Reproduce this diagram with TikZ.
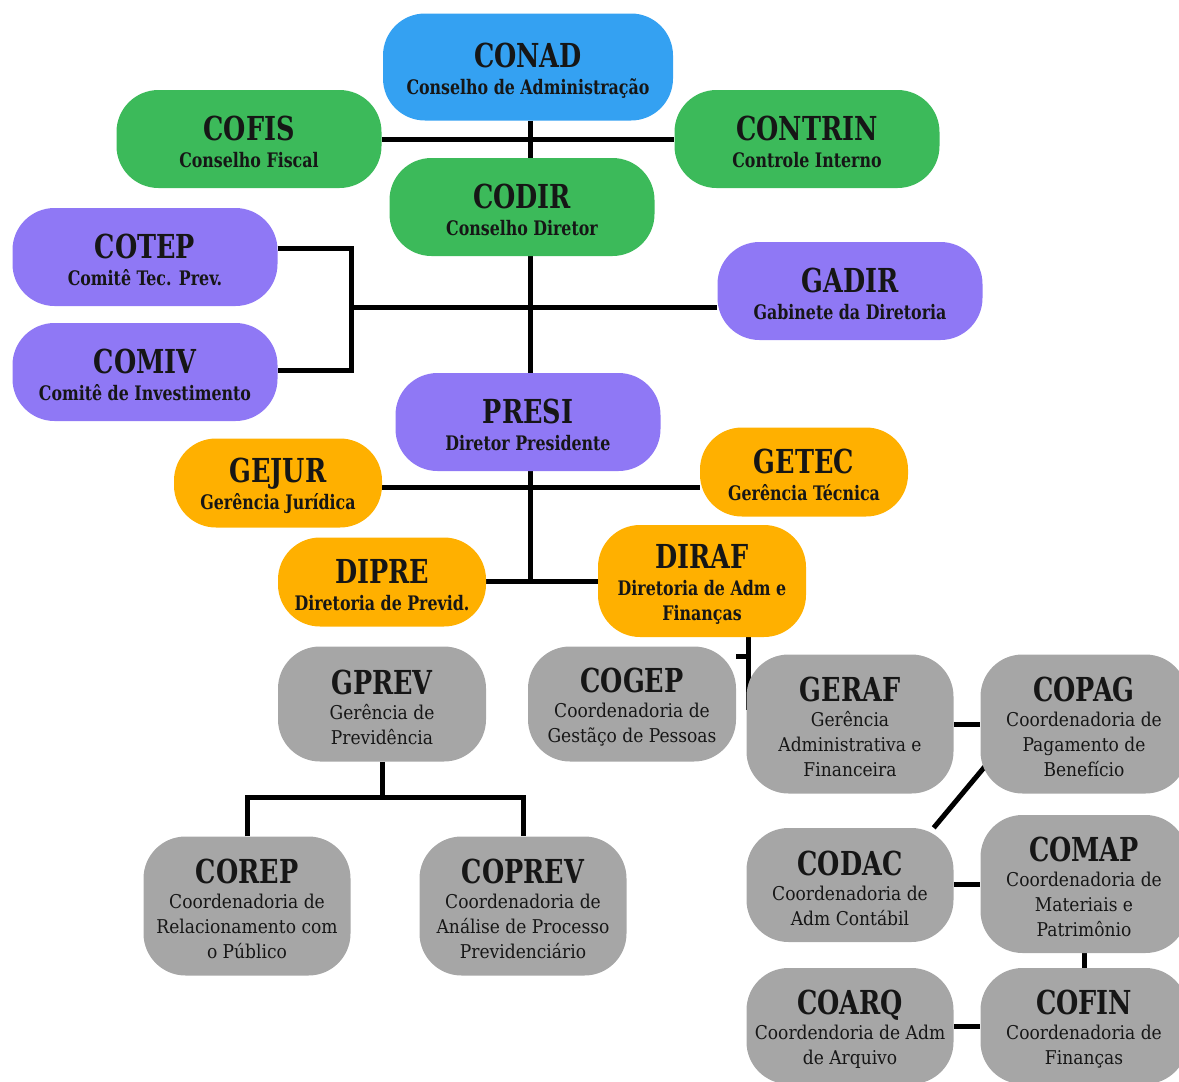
\documentclass[tikz,border=0pt]{standalone}
\usepackage{fontspec}
\setmainfont{DejaVu Serif Condensed}
\newfontfamily\ttlfont[FakeStretch=0.86]{DejaVu Serif Condensed}
\newfontfamily\subbfont[FakeStretch=0.88]{DejaVu Serif Condensed}
\usetikzlibrary{backgrounds}
\definecolor{cblue}{RGB}{52,161,242}
\definecolor{cgreen}{RGB}{60,186,90}
\definecolor{cpurple}{RGB}{143,120,245}
\definecolor{corange}{RGB}{255,176,0}
\definecolor{cgray}{RGB}{166,166,166}
\definecolor{ctext}{RGB}{22,22,22}
\newcommand{\nttl}{\ttlfont\fontsize{33}{34}\selectfont\bfseries\rule{0pt}{31pt}}
\newcommand{\nsubf}{\fontsize{19}{25}\selectfont}
\newcommand{\nsubb}{\subbfont\fontsize{20}{25}\selectfont\bfseries}
\begin{document}
\begin{tikzpicture}[x=1pt,y=-1pt,
  box/.style={rectangle, rounded corners=42pt, inner sep=0pt, align=center, text=ctext},
  colbox/.style={box, font=\nsubb},
  graybox/.style={box, fill=cgray, font=\nsubf},
  wide/.style={minimum width=265pt, minimum height=98pt},
  mid/.style={minimum width=208pt},
  conn/.style={draw=black, line width=5pt}]
\useasboundingbox (0,0) rectangle (1179,1082);
% top
\node[colbox, fill=cblue, minimum width=290pt, minimum height=107pt] (conad) at (528,67) {{\nttl CONAD}\\[2pt]Conselho de Administração};
\node[colbox, fill=cgreen, wide] (cofis) at (249,139) {{\nttl COFIS}\\[2pt]Conselho Fiscal};
\node[colbox, fill=cgreen, wide] (contrin) at (807,139) {{\nttl CONTRIN}\\[2pt]Controle Interno};
\node[colbox, fill=cgreen, wide] (codir) at (522,207) {{\nttl CODIR}\\[2pt]Conselho Diretor};
\node[colbox, fill=cpurple, wide] (cotep) at (145,257) {{\nttl COTEP}\\[2pt]Comitê Tec. Prev.};
\node[colbox, fill=cpurple, wide] (comiv) at (145,372) {{\nttl COMIV}\\[2pt]Comitê de Investimento};
\node[colbox, fill=cpurple, wide] (gadir) at (850,291) {{\nttl GADIR}\\[2pt]Gabinete da Diretoria};
\node[colbox, fill=cpurple, wide] (presi) at (528,422) {{\nttl PRESI}\\[2pt]Diretor Presidente};
% orange
\node[colbox, fill=corange, mid, minimum height=89pt] (gejur) at (278,483) {{\nttl GEJUR}\\[2pt]Gerência Jurídica};
\node[colbox, fill=corange, mid, minimum height=89pt] (getec) at (804,472) {{\nttl GETEC}\\[2pt]Gerência Técnica};
\node[colbox, fill=corange, mid, minimum height=89pt] (dipre) at (382,582) {{\nttl DIPRE}\\[2pt]Diretoria de Previd.};
\node[colbox, fill=corange, mid, minimum height=112pt] (diraf) at (702,581) {{\nttl DIRAF}\\[2pt]Diretoria de Adm e\\Finanças};
% gray
\node[graybox, mid, minimum height=115pt] (gprev) at (382,704) {{\nttl GPREV}\\Gerência de\\Previdência};
\node[graybox, mid, minimum height=115pt] (cogep) at (632,704) {{\nttl COGEP}\\Coordenadoria de\\Gestãço de Pessoas};
\node[graybox, minimum width=207pt, minimum height=139pt] (geraf) at (850,724) {{\nttl GERAF}\\Gerência\\Administrativa e\\Financeira};
\node[graybox, minimum width=207pt, minimum height=139pt] (copag) at (1084,724) {{\nttl COPAG}\\Coordenadoria de\\Pagamento de\\Benefício};
\node[graybox, minimum width=207pt, minimum height=114pt] (codac) at (850,885) {{\nttl CODAC}\\Coordenadoria de\\Adm Contábil};
\node[graybox, minimum width=207pt, minimum height=138pt] (comap) at (1084,884) {{\nttl COMAP}\\Coordenadoria de\\Materiais e\\Patrimônio};
\node[graybox, minimum width=207pt, minimum height=139pt] (corep) at (247,906) {{\nttl COREP}\\Coordenadoria de\\Relacionamento com\\o Público};
\node[graybox, minimum width=207pt, minimum height=139pt] (coprev) at (523,906) {{\nttl COPREV}\\Coordenadoria de\\Análise de Processo\\Previdenciário};
\node[graybox, minimum width=207pt, minimum height=116pt] (coarq) at (850,1026) {{\nttl COARQ}\\Coordendoria de Adm\\de Arquivo};
\node[graybox, minimum width=207pt, minimum height=116pt] (cofin) at (1084,1026) {{\nttl COFIN}\\Coordenadoria de\\Finanças};
% connectors
\begin{scope}[on background layer]
\coordinate (trunk) at (530,0);
\draw[conn] (cofis.east) -- (contrin.west);
\draw[conn] (trunk |- conad.south) -- (trunk |- presi.north);
\coordinate (brk) at (351,0);
\draw[conn] (cotep.east |- 0,248) -- (brk |- 0,248) -- (brk |- 0,370) -- (comiv.east |- 0,370);
\draw[conn] (brk |- 0,307) -- (gadir.west |- 0,307);
\draw[conn] (trunk |- presi.south) -- (trunk |- dipre.east);
\draw[conn] (gejur.east |- 0,487) -- (getec.west |- 0,487);
\draw[conn] (dipre.east |- 0,581) -- (diraf.west |- 0,581);
\coordinate (drv) at (748,0);
\draw[conn] (drv |- diraf.south) -- (drv |- 0,710);
\draw[conn] (cogep.east |- 0,656) -- (drv |- 0,656);
\draw[conn] (geraf.east) -- (copag.west);
\draw[conn] ([xshift=-20pt]codac.north east) -- ([xshift=5pt,yshift=-42pt]copag.west);
\draw[conn] (codac.east |- 0,884) -- (comap.west |- 0,884);
\draw[conn] (comap.south) -- (cofin.north);
\draw[conn] (coarq.east) -- (cofin.west);
\coordinate (gpb) at (0,797);
\draw[conn] (gprev.south) -- (gprev.south |- gpb);
\draw[conn] (corep.north) -- (corep.north |- gpb) -- (coprev.north |- gpb) -- (coprev.north);
\end{scope}
\end{tikzpicture}
\end{document}
